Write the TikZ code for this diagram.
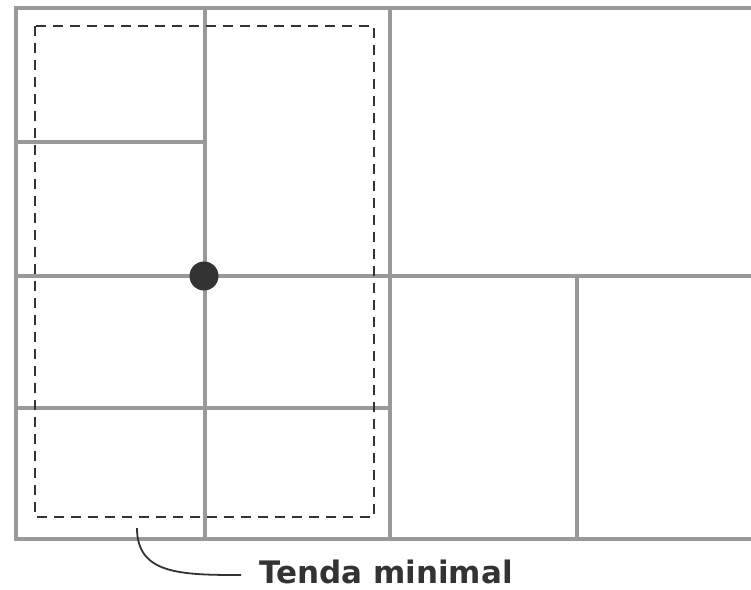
\documentclass[tikz,border=0pt]{standalone}
\usepackage{fontspec}
\setmainfont{DejaVu Sans}
\begin{document}
\begin{tikzpicture}[x=1pt,y=-1pt,
  wall/.style={draw=black!40, line width=4pt},
  zone/.style={draw=black!80, line width=2pt, dash pattern=on 10pt off 7pt},
  leader/.style={draw=black!80, line width=1.8pt},
  label/.style={font=\bfseries\fontsize{31}{32}\selectfont, text=black!80, inner sep=0pt, anchor=base west}]
  \useasboundingbox (0,0) rectangle (751,589);
  % grid corners
  \coordinate (tl) at (16,8);
  \coordinate (tr) at (751,8);
  \coordinate (bl) at (16,539);
  \coordinate (br) at (751,539);
  % outer walls (open on the right)
  \draw[wall] (tr) -- (tl) -- (bl) -- (br);
  % vertical walls
  \draw[wall] (205,8) -- (205,539);
  \draw[wall] (390,8) -- (390,539);
  \draw[wall] (577,276) -- (577,539);
  % horizontal walls
  \draw[wall] (16,142) -- (205,142);
  \draw[wall] (16,276) -- (751,276);
  \draw[wall] (16,408) -- (390,408);
  % minimal tent outline
  \draw[zone] (35,26) rectangle (374,517);
  % point
  \node[circle, fill=black!80, minimum size=29pt, inner sep=0pt] (pt) at (204,276) {};
  % label and leader
  \node[label] (lab) at (259,583) {Tenda minimal};
  \coordinate (lstart) at (137,528);
  \coordinate (lend) at (241,575);
  \draw[leader] (lstart) .. controls (137,574) and (180,575) .. (lend);
\end{tikzpicture}
\end{document}
